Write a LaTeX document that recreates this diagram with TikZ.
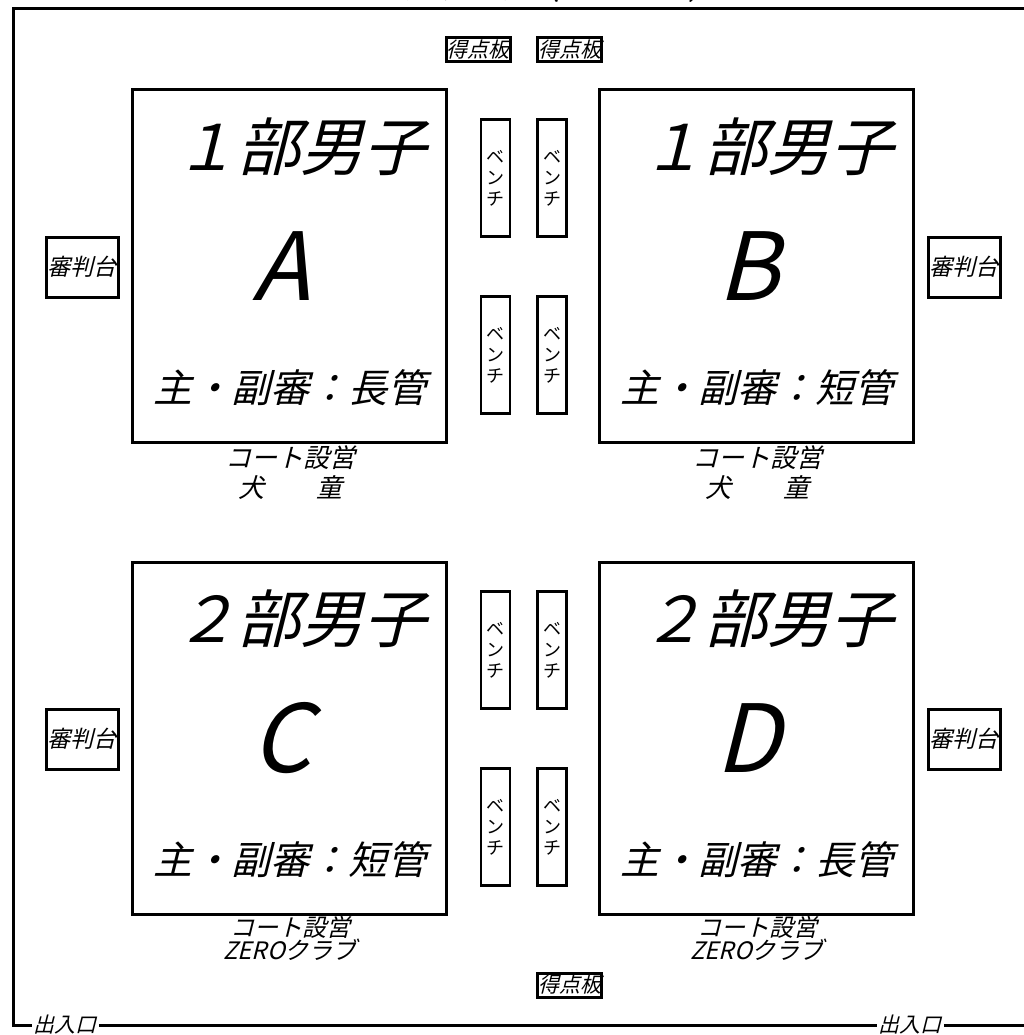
\documentclass[tikz,border=0pt]{standalone}
\usepackage{fontspec}
\usepackage{tikz}
\newfontfamily\jp{Noto Sans CJK JP}
\newfontfamily\jpit[FakeSlant=0.25]{Noto Sans CJK JP}
\newcommand{\jpsize}[1]{\jpit\fontsize{#1}{#1}\selectfont}

\tikzset{
  court/.style={draw, line width=3pt, minimum width=314pt, minimum height=352pt, inner sep=0pt},
  benchbox/.style={draw, line width=2.5pt, minimum width=29pt, minimum height=117pt, inner sep=0pt,
    align=center, font=\jp\fontsize{18}{21}\selectfont},
  refbox/.style={draw, line width=3pt, minimum width=72pt, minimum height=60pt, inner sep=0pt, font=\jpsize{23}},
  scorebox/.style={draw, line width=3pt, fill=white, minimum width=64pt, minimum height=24pt, inner sep=0pt, font=\jpsize{21}},
  exitlabel/.style={fill=white, inner xsep=2pt, inner ysep=0pt, font=\jpsize{21}},
}

\begin{document}
\begin{tikzpicture}[x=1pt,y=-1pt]
\useasboundingbox (0,0) rectangle (1023,1035);

\draw[line width=3pt] (1030,9) -| (13,1025) -- (1030,1025);
\node[anchor=base, font=\jpsize{32}] (title) at (512,0) {メインアリーナ（４コート）};

\foreach \nm/\x/\y/\lv/\refname/\club/\sz/\da/\db in
    {A/289/266/１/長/犬　　童/26/16/46, B/756/266/１/短/犬　　童/26/16/46,
     C/289/738/２/短/ZEROクラブ/24/13/36, D/756/738/２/長/ZEROクラブ/24/13/36}
    {\node[court] (court\nm) at (\x,\y) {};
     \node[font=\jpsize{63}] (div\nm) at (\x+11,\y-119) {\lv 部男子};
     \node[font=\jpsize{94}] (name\nm) at (\x-8,\y) {\nm};
     \node[font=\jpsize{39}] (ref\nm) at (\x+1,\y+122) {主・副審：\refname 管};
     \node[font=\jpsize{\sz}] (setup\nm) at (\x+1,\y+176+\da) {コート設営};
     \node[font=\jpsize{\sz}] (club\nm) at (\x+1,\y+176+\db) {\club};}

\foreach \y [count=\i] in {178,355,650,827}
    {\node[benchbox] (benchL\i) at (495.5,\y) {ベ\\ン\\チ};
     \node[benchbox] (benchR\i) at (552,\y) {ベ\\ン\\チ};}

\foreach \y [count=\i] in {267,739}
    {\node[refbox] (judgeL\i) at (82,\y) {審判台};
     \node[refbox] (judgeR\i) at (964,\y) {審判台};}

\node[scorebox] (scoreTL) at (478,50) {得点板};
\node[scorebox] (scoreTR) at (569.5,50) {得点板};
\node[scorebox] (scoreB) at (569.5,985) {得点板};

\node[exitlabel] (exitL) at (65,1025) {出入口};
\node[exitlabel] (exitR) at (910,1025) {出入口};

\end{tikzpicture}
\end{document}
